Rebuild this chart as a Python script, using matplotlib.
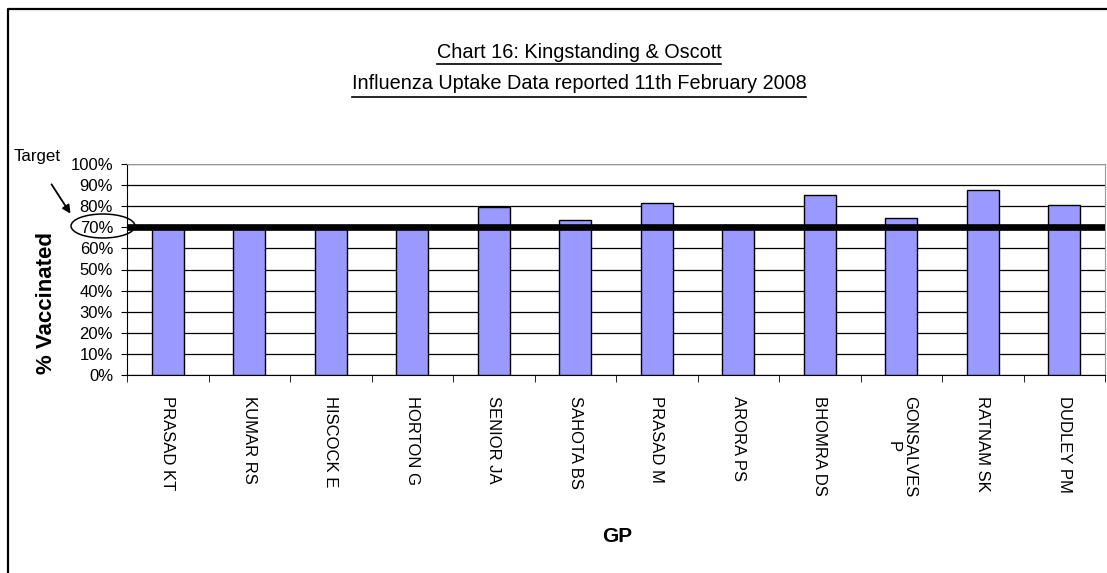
import numpy as np
import matplotlib
matplotlib.use("Agg")
import matplotlib.pyplot as plt
from matplotlib.patches import Ellipse, FancyArrowPatch
from matplotlib.lines import Line2D

plt.rcParams['font.family'] = ['Liberation Sans', 'DejaVu Sans']

# data
gps = ['PRASAD KT', 'KUMAR RS', 'HISCOCK E', 'HORTON G', 'SENIOR JA', 'SAHOTA BS',
       'PRASAD M', 'ARORA PS', 'BHOMRA DS', 'GONSALVES\nP', 'RATNAM SK', 'DUDLEY PM']
uptake = [70, 70, 70, 71, 79.8, 73.5, 81.5, 71, 85.2, 74.4, 87.7, 80.7]
target = 70
yticks = np.arange(0, 101, 10)

W, H = 1107, 573
fig = plt.figure(figsize=(W / 100, H / 100), dpi=100)

def fx(px):
    return px / W

def fy(py):
    return 1 - py / H

ax = fig.add_axes([fx(127), fy(375), fx(1105) - fx(127), fy(164) - fy(375)])

x = np.arange(len(gps))
ax.bar(x, uptake, width=0.39, color='#9999FF', edgecolor='black', linewidth=1, zorder=3)
ax.axhline(target, color='black', linewidth=4.8, zorder=4)

ax.set_xlim(-0.5, len(gps) - 0.5)
ax.set_ylim(0, 100)
ax.set_yticks(yticks)
ax.set_yticklabels(['%d%%' % v for v in yticks], fontsize=12)
ax.yaxis.grid(True, color='black', linewidth=0.9, zorder=0)
ax.set_axisbelow(True)

# category labels between boundary ticks
ax.set_xticks(x)
ax.set_xticklabels(gps, rotation=270, fontsize=12, va='top', ha='center',
                   multialignment='center', linespacing=1.1)
ax.tick_params(axis='x', length=0, pad=15)
ax.set_xticks(np.arange(len(gps) + 1) - 0.5, minor=True)
ax.tick_params(axis='x', which='minor', length=5, direction='out')
ax.tick_params(axis='y', length=4, direction='out', pad=6)

for s in ['top', 'right']:
    ax.spines[s].set_color('#999999')
ax.spines['left'].set_color('black')
ax.spines['bottom'].set_color('black')

# axis titles
fig.text(fx(46), fy(303), '% Vaccinated', rotation=90, fontsize=16,
         fontweight='bold', ha='center', va='center')
fig.text(fx(617), fy(537), 'GP', fontsize=15, fontweight='bold', ha='center', va='center')

# title with underline
t1 = fig.text(fx(579), fy(53), 'Chart 16: Kingstanding & Oscott', fontsize=14.3,
              ha='center', va='center')
t2 = fig.text(fx(579), fy(84), 'Influenza Uptake Data reported 11th February 2008',
              fontsize=14.3, ha='center', va='center')
fig.canvas.draw()
r = fig.canvas.get_renderer()
for t, uy in [(t1, 64), (t2, 97)]:
    bb = t.get_window_extent(r)
    fig.add_artist(Line2D([bb.x0 / W, bb.x1 / W], [fy(uy), fy(uy)],
                          color='black', linewidth=1.2))

# target annotation
fig.text(fx(37), fy(157), 'Target', fontsize=12.2, ha='center', va='center')
fig.add_artist(FancyArrowPatch((fx(50), fy(182)), (fx(72), fy(216)),
                               transform=fig.transFigure, arrowstyle='-|>',
                               mutation_scale=12, color='black', linewidth=1.3))
fig.add_artist(Ellipse((fx(103), fy(226)), fx(64), 24 / H, transform=fig.transFigure,
                       fill=False, edgecolor='black', linewidth=1.1, zorder=10))

# outer frame (left and top)
fig.add_artist(Line2D([fx(8), fx(8), 1], [0, fy(9), fy(9)], color='black', linewidth=1.6))

plt.savefig('out.png', dpi=100)
